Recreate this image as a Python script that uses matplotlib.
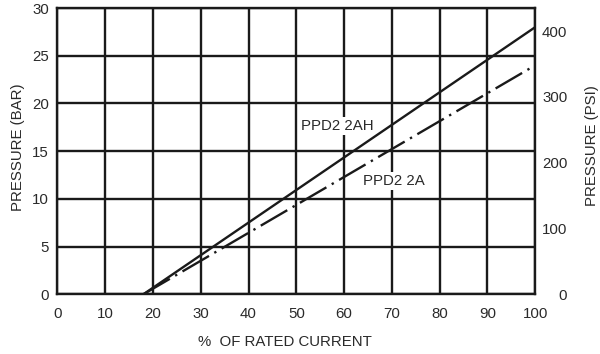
import matplotlib
matplotlib.use("Agg")
import matplotlib.pyplot as plt
import numpy as np

plt.rcParams['font.family'] = ['Liberation Sans', 'DejaVu Sans']

# Data
current_pct = [18, 100]
ppd2_2ah = [0, 28]
ppd2_2a = [0, 24]
x_ticks = [0, 10, 20, 30, 40, 50, 60, 70, 80, 90, 100]
bar_ticks = [0, 5, 10, 15, 20, 25, 30]
psi_ticks = [0, 100, 200, 300, 400]
BAR_TO_PSI = 14.5038

txt_color = '#2a2a2a'
line_color = '#1a1a1a'
fs = 10.8

fig = plt.figure(figsize=(6.0, 3.54), dpi=100)
ax = fig.add_axes([57.3/600, 1 - 294.3/354, (535.3-57.3)/600, (294.3-8)/354])

ax.set_xlim(0, 100)
ax.set_ylim(0, 30)
ax.set_xticks(x_ticks)
ax.set_yticks(bar_ticks)
ax.grid(True, color=line_color, linewidth=1.7)
for s in ax.spines.values():
    s.set_color(line_color)
    s.set_linewidth(1.7)
ax.tick_params(length=0, labelsize=fs, labelcolor=txt_color)
ax.tick_params(axis='x', pad=9)
ax.tick_params(axis='y', pad=6)

ax.plot(current_pct, ppd2_2ah, color=line_color, linewidth=1.7, zorder=3)
ax.plot(current_pct, ppd2_2a, color=line_color, linewidth=1.7,
        linestyle=(0, (13, 2.6, 1.0, 2.6)), zorder=3)

ax.text(50.9, 17.6, 'PPD2 2AH', fontsize=fs, color=txt_color, va='center', ha='left',
        bbox=dict(facecolor='white', edgecolor='none', pad=1.5), zorder=4)
ax.text(64.0, 11.9, 'PPD2 2A', fontsize=fs, color=txt_color, va='center', ha='left',
        bbox=dict(facecolor='white', edgecolor='none', pad=1.5), zorder=4)

ax2 = ax.twinx()
ax2.set_ylim(0, 30 * BAR_TO_PSI)
ax2.set_yticks(psi_ticks)
ax2.tick_params(length=0, labelsize=fs, labelcolor=txt_color, pad=23)
for lbl in ax2.get_yticklabels():
    lbl.set_ha('right')
for s in ax2.spines.values():
    s.set_visible(False)

fig.text(18.5/600, 1 - 147/354, 'PRESSURE (BAR)', rotation=90, fontsize=fs,
         color=txt_color, ha='center', va='center')
fig.text(592/600, 1 - 146/354, 'PRESSURE (PSI)', rotation=90, fontsize=fs,
         color=txt_color, ha='center', va='center')
fig.text(285/600, 1 - 342/354, '%  OF RATED CURRENT', fontsize=fs,
         color=txt_color, ha='center', va='center')

fig.savefig('out.png', dpi=100)
